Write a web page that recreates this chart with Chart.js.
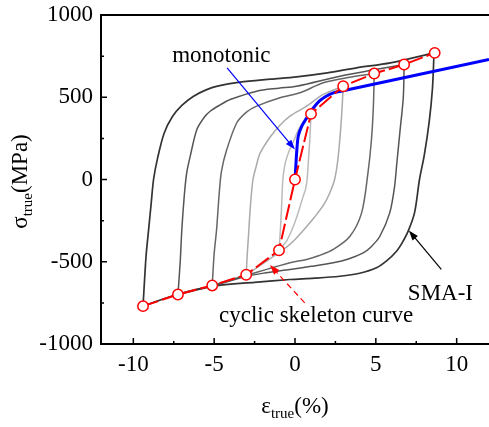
<!DOCTYPE html>
<html><head><meta charset="utf-8">
<script src="https://cdn.jsdelivr.net/npm/chart.js@4"></script>
<style>html,body{margin:0;padding:0;background:#fff;}</style>
</head><body>
<canvas id="c" width="489" height="427" style="width:489px;height:427px;display:block"></canvas>
<script>
// ---- data ----
const xTicks = [-10, -5, 0, 5, 10];
const xMinor = [-7.5, -2.5, 2.5, 7.5];
const yTicks = [-1000, -500, 0, 500, 1000];
const yMinor = [-750, -250, 250, 750];

const skeletonX = [-9.4, -7.24, -5.12, -3.02, -0.99, 0, 0.99, 2.98, 4.9, 6.75, 8.64];
const skeletonY = [-770, -699, -644, -579, -430, 0, 399, 567, 644, 699, 770];

const monotonic = [[0,0],[0.05,80],[0.1,160],[0.2,263],[0.4,320],[0.7,370],[1.1,430],[1.5,476],[1.9,505],[2.37,527],[2.9,538],[12,730]];

const loop9Up = [[-9.4,-770],[-9.3,-600],[-9.2,-450],[-9.05,-300],[-8.9,-150],[-8.75,0],[-8.5,130],[-8.1,280],[-7.6,380],[-7.0,450],[-6.3,505],[-5.5,545],[-4.8,568],[-3.4,592],[-1.5,610],[0.1,624],[2,648],[3.8,679],[5.9,709],[8.6,770]];
const loop9Down = [[8.6,770],[8.5,550],[8.3,350],[8.0,150],[7.7,0],[7.4,-200],[7.0,-314],[6.6,-390],[6.28,-436],[5.7,-492],[5.04,-537],[4,-570],[2.78,-588],[1.2,-600],[-0.31,-608],[-2.5,-625],[-5.04,-648],[-7.3,-699],[-9.4,-770]];

const loop7Up = [[-7.24,-699],[-7.1,-500],[-7.0,-304],[-6.85,-100],[-6.7,40],[-6.48,142],[-6.07,304],[-5.6,380],[-5.25,415],[-4.6,455],[-4.01,486],[-2.37,537],[-1,555],[0.1,567],[2.78,628],[4.8,665],[6.75,699]];
const loop7Down = [[6.75,699],[6.7,500],[6.5,300],[6.3,100],[6.15,-50],[5.86,-203],[5.25,-345],[4.7,-410],[4.22,-446],[3.3,-483],[2.37,-506],[1,-528],[-0.31,-547],[-1.8,-567],[-3.0,-588],[-5.1,-648],[-7.24,-699]];

const loop5Up = [[-5.12,-644],[-5.0,-450],[-4.85,-304],[-4.7,-100],[-4.55,50],[-4.22,182],[-3.6,345],[-3.0,410],[-2.37,446],[-0.93,497],[0.31,527],[1.75,588],[3.3,620],[4.9,644]];
const loop5Down = [[4.9,644],[4.85,450],[4.73,243],[4.5,30],[4.12,-203],[3.4,-345],[2.37,-425],[1.5,-462],[0.72,-486],[-0.31,-506],[-1.7,-545],[-3.02,-582],[-5.12,-644]];

const loop3Up = [[-3.02,-579],[-2.95,-450],[-2.88,-345],[-2.75,-150],[-2.6,0],[-2.4,80],[-2.16,160],[-1.5,263],[-0.93,330],[-0.31,385],[0.72,446],[1.75,517],[2.98,567]];
const loop3Down = [[2.98,567],[2.92,450],[2.82,300],[2.65,120],[2.45,0],[2.2,-70],[1.8,-150],[1.2,-230],[0.6,-300],[0,-365],[-0.5,-410],[-1.0,-445],[-1.96,-510],[-3.02,-579]];

const loop1Up = [[-0.99,-430],[-0.9,-300],[-0.82,-142],[-0.75,0],[-0.6,101],[-0.3,190],[-0.1,230],[0.2,300],[0.5,350],[0.72,380],[0.99,399]];
const loop1Down = [[0.99,399],[0.92,250],[0.82,101],[0.75,0],[0.65,-60],[0.51,-101],[0.2,-200],[-0.1,-284],[-0.5,-370],[-0.99,-430]];

// annotations (data coordinates)
const labels = [
  {text:'monotonic', x:-7.6, y:717},
  {text:'SMA-I', x:6.98, y:-730},
  {text:'cyclic skeleton curve', x:-4.7, y:-869}
];
const arrows = [
  {from:[-4.2,679], to:[0,182], color:'#0000ff', dash:[]},
  {from:[9.05,-547], to:[7.04,-310], color:'#000000', dash:[]},
  {from:[0.6,-750], to:[-1.55,-520], color:'#ff0000', dash:[6,4]}
];

const FONT = '"Liberation Serif", "Times New Roman", serif';
const toPts = a => a.map(p => ({x:p[0], y:p[1]}));
function loopDs(arr, color, order, w){
  return {data: toPts(arr), showLine:true, borderColor:color, borderWidth:w || 1.5, pointRadius:0, tension:0.3, fill:false, order:order};
}

const datasets = [
  {data: skeletonX.map((x,i)=>({x, y:skeletonY[i]})), showLine:true, borderColor:'#ff0000', borderWidth:2, borderDash:[16,4],
   pointRadius:5.2, pointBorderWidth:1.5, pointBackgroundColor:'#ffffff', pointBorderColor:'#ff0000', tension:0, order:0},
  {data: toPts(monotonic), showLine:true, borderColor:'#0000ff', borderWidth:3, pointRadius:0, tension:0.3, order:1},
  loopDs(loop9Up,'#333333',2,1.7), loopDs(loop9Down,'#333333',2,1.7),
  loopDs(loop7Up,'#555555',3), loopDs(loop7Down,'#555555',3),
  loopDs(loop5Up,'#666666',4), loopDs(loop5Down,'#666666',4),
  loopDs(loop3Up,'#aaaaaa',5), loopDs(loop3Down,'#aaaaaa',5),
  loopDs(loop1Up,'#bbbbbb',6), loopDs(loop1Down,'#bbbbbb',6)
];

function drawSub(ctx, parts, cx, cy){
  let total = 0;
  parts.forEach(p => { ctx.font = p.size + 'px ' + FONT; p.w = ctx.measureText(p.t).width; total += p.w; });
  let x = cx - total/2;
  parts.forEach(p => { ctx.font = p.size + 'px ' + FONT; ctx.fillText(p.t, x, cy + p.dy); x += p.w; });
}

const decor = {
  id:'decor',
  afterDraw(chart){
    const {ctx, chartArea:a, scales:{x, y}} = chart;
    ctx.save();
    ctx.strokeStyle = '#000'; ctx.lineWidth = 2;
    ctx.beginPath();
    ctx.moveTo(a.right, a.top); ctx.lineTo(a.left, a.top); ctx.lineTo(a.left, a.bottom); ctx.lineTo(a.right, a.bottom);
    ctx.stroke();
    ctx.lineWidth = 1.5;
    ctx.beginPath();
    xTicks.forEach(v => { const p = x.getPixelForValue(v); ctx.moveTo(p, a.bottom); ctx.lineTo(p, a.bottom - 6); });
    xMinor.forEach(v => { const p = x.getPixelForValue(v); ctx.moveTo(p, a.bottom); ctx.lineTo(p, a.bottom - 3); });
    yTicks.forEach(v => { const p = y.getPixelForValue(v); ctx.moveTo(a.left, p); ctx.lineTo(a.left + 6, p); });
    yMinor.forEach(v => { const p = y.getPixelForValue(v); ctx.moveTo(a.left, p); ctx.lineTo(a.left + 3, p); });
    ctx.stroke();

    // arrows
    arrows.forEach(ar => {
      const x1 = x.getPixelForValue(ar.from[0]), y1 = y.getPixelForValue(ar.from[1]);
      const x2 = x.getPixelForValue(ar.to[0]), y2 = y.getPixelForValue(ar.to[1]);
      const ang = Math.atan2(y2 - y1, x2 - x1);
      const L = 10, W = 3.5;
      ctx.strokeStyle = ar.color; ctx.fillStyle = ar.color; ctx.lineWidth = 1.2;
      ctx.setLineDash(ar.dash);
      ctx.beginPath(); ctx.moveTo(x1, y1); ctx.lineTo(x2 - L*0.8*Math.cos(ang), y2 - L*0.8*Math.sin(ang)); ctx.stroke();
      ctx.setLineDash([]);
      ctx.beginPath();
      ctx.moveTo(x2, y2);
      ctx.lineTo(x2 - L*Math.cos(ang) + W*Math.sin(ang), y2 - L*Math.sin(ang) - W*Math.cos(ang));
      ctx.lineTo(x2 - L*Math.cos(ang) - W*Math.sin(ang), y2 - L*Math.sin(ang) + W*Math.cos(ang));
      ctx.closePath(); ctx.fill();
    });

    // text labels
    ctx.fillStyle = '#000'; ctx.textBaseline = 'alphabetic'; ctx.textAlign = 'left';
    ctx.font = '23px ' + FONT;
    labels.forEach(l => ctx.fillText(l.text, x.getPixelForValue(l.x), y.getPixelForValue(l.y)));

    // axis titles
    drawSub(ctx, [{t:'ε',size:23,dy:0},{t:'true',size:15,dy:5},{t:'(%)',size:23,dy:0}], (a.left + a.right)/2, 413);
    ctx.save();
    ctx.translate(27, (a.top + a.bottom)/2 + 2);
    ctx.rotate(-Math.PI/2);
    drawSub(ctx, [{t:'σ',size:23,dy:0},{t:'true',size:15,dy:5},{t:'(MPa)',size:23,dy:0}], 0, 0);
    ctx.restore();
    ctx.restore();
  }
};

function zeroPad(s){ s.paddingLeft = 0; s.paddingRight = 0; s.paddingTop = 0; s.paddingBottom = 0; }

new Chart(document.getElementById('c'), {
  type:'scatter',
  data:{datasets},
  options:{
    responsive:false, animation:false, devicePixelRatio:1,
    layout:{autoPadding:false, padding:{top:15, left:0, right:0, bottom:0}},
    plugins:{legend:{display:false}, tooltip:{enabled:false}},
    scales:{
      x:{type:'linear', min:-12, max:12,
        grid:{display:false, drawTicks:false}, border:{display:false},
        afterBuildTicks: s => { s.ticks = xTicks.map(v => ({value:v})); },
        afterFit: s => { s.height = 83; zeroPad(s); },
        ticks:{font:{family:FONT, size:23}, color:'#000', padding:7, maxRotation:0, autoSkip:false, callback: v => String(v)}
      },
      y:{type:'linear', min:-1000, max:1000,
        grid:{display:false, drawTicks:false}, border:{display:false},
        afterBuildTicks: s => { s.ticks = yTicks.map(v => ({value:v})); },
        afterFit: s => { s.width = 101; zeroPad(s); },
        ticks:{font:{family:FONT, size:23}, color:'#000', padding:8, autoSkip:false, callback: v => String(v)}
      }
    }
  },
  plugins:[decor]
});
</script>
</body></html>
